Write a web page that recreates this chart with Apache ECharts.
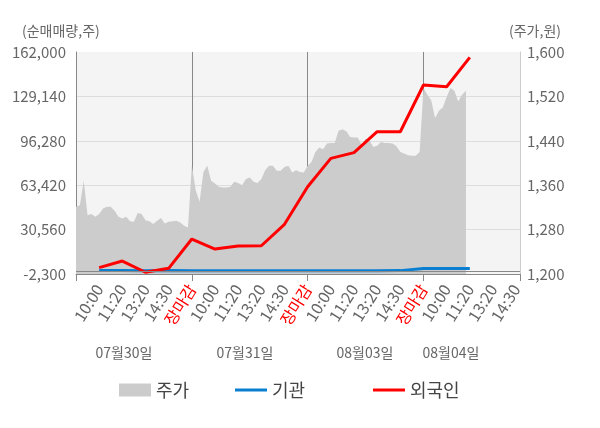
<!DOCTYPE html>
<html>
<head>
<meta charset="utf-8">
<script src="https://cdn.jsdelivr.net/npm/echarts@6/dist/echarts.min.js"></script>
<style>
  html, body { margin: 0; padding: 0; background: #fff; }
  #chart { width: 600px; height: 428px; }
</style>
</head>
<body>
<div id="chart"></div>
<script>
// 데이터
var days = ['07월30일', '07월31일', '08월03일', '08월04일'];
var slotLabels = ['', '10:00', '11:20', '13:20', '14:30', '장마감',
    '10:00', '11:20', '13:20', '14:30', '장마감',
    '10:00', '11:20', '13:20', '14:30', '장마감',
    '10:00', '11:20', '13:20', '14:30'];
var subSteps = 6;     // 한 칸(라벨 간격)당 주가 점 개수
var fineCount = 116;  // 마지막 칸은 약간 길게 (축 끝까지)

// 주가 (원)
var price = [
    1321, 1324, 1368, 1306, 1308, 1303, 1308, 1318, 1321, 1321, 1314, 1303, 1300, 1303, 1295,
    1294, 1310, 1308, 1297, 1295, 1290, 1296, 1301, 1291, 1294, 1295, 1296, 1293, 1287, 1284,
    1396, 1351, 1330, 1384, 1395, 1368, 1363, 1357, 1356, 1356, 1357, 1366, 1364, 1360, 1371,
    1374, 1366, 1364, 1371, 1387, 1395, 1395, 1386, 1386, 1393, 1395, 1383, 1387, 1384, 1383,
    1395, 1402, 1420, 1428, 1425, 1435, 1436, 1436, 1458, 1461, 1457, 1447, 1446, 1446, 1432,
    1444, 1441, 1429, 1431, 1438, 1436, 1436, 1435, 1430, 1420, 1417, 1414, 1413, 1413, 1420,
    1535, 1523, 1513, 1481, 1494, 1500, 1519, 1535, 1530, 1511, 1523, 1530
];
// 순매매량 (주), 라벨 칸마다 한 점
var inst = [null, 200, 200, 100, 200, 100, 100, 100, 100, 100, 100, 100, 100, 100, 200, 1700, 1800, 1800];
var foreign = [null, 2400, 7300, -1000, 1900, 23600, 16200, 18400, 18600, 34500, 62300,
    83300, 87500, 103000, 103000, 137600, 136300, 158000];

var leftMin = -2300, leftMax = 162000, leftStep = 32860;
var rightMin = 1200, rightMax = 1600, rightStep = 80;

var fineCats = [];
for (var i = 0; i < fineCount; i++) {
    fineCats.push(i % subSteps === 0 && slotLabels[i / subSteps] !== undefined ? slotLabels[i / subSteps] : '');
}

function toFine(arr) {
    return fineCats.map(function (c, i) {
        if (i % subSteps !== 0) return null;
        var v = arr[i / subSteps];
        return v === undefined ? null : v;
    });
}

var font = '"Noto Sans CJK KR", "Noto Sans", sans-serif';
var dayLen = subSteps * 5;

var dom = document.getElementById('chart');
var myChart = echarts.init(dom);
var option = {
    backgroundColor: '#fff',
    animation: false,
    textStyle: { fontFamily: font },
    grid: {
        left: 76,
        right: 80,
        top: 52,
        bottom: 154,
        show: true,
        backgroundColor: '#f4f4f4',
        borderWidth: 0,
        containLabel: false,
        outerBoundsMode: 'none'
    },
    legend: [{
        left: 114, top: 376, icon: 'rect', itemWidth: 32, itemHeight: 13, itemGap: 5,
        textStyle: { fontSize: 18, color: '#444', fontFamily: font },
        data: ['주가']
    }, {
        left: 230, top: 376, icon: 'rect', itemWidth: 32, itemHeight: 3,
        textStyle: { fontSize: 18, color: '#444', fontFamily: font },
        data: ['기관']
    }, {
        left: 368, top: 376, icon: 'rect', itemWidth: 32, itemHeight: 3,
        textStyle: { fontSize: 18, color: '#444', fontFamily: font },
        data: ['외국인']
    }],
    xAxis: {
        type: 'category',
        data: fineCats,
        boundaryGap: false,
        axisLine: { onZero: false, lineStyle: { color: '#888' } },
        axisTick: {
            interval: function (index) { return index % dayLen === 0 || index === fineCount - 1; },
            length: 7,
            lineStyle: { color: '#888' }
        },
        splitLine: {
            show: true,
            interval: function (index) { return index % dayLen === 0 && index > 0 && index < fineCount - 1; },
            lineStyle: { color: '#888', width: 1 }
        },
        axisLabel: {
            interval: function (index) { return index % subSteps === 0; },
            rotate: 58,
            fontSize: 16,
            margin: 12,
            fontFamily: font,
            color: function (value, index) {
                if (value === '장마감') return '#ff0000';
                if (index === subSteps * 16) return '#222';
                return '#666';
            }
        }
    },
    yAxis: [{
        type: 'value',
        min: leftMin,
        max: leftMax,
        interval: leftStep,
        position: 'left',
        axisLine: { show: true, lineStyle: { color: '#888' } },
        axisTick: { show: false },
        axisLabel: {
            color: '#666', fontSize: 15, margin: 10, fontFamily: font,
            formatter: function (v) { return v.toLocaleString('en-US'); }
        },
        splitLine: { show: true, showMaxLine: false, lineStyle: { color: '#ddd' } }
    }, {
        type: 'value',
        min: rightMin,
        max: rightMax,
        interval: rightStep,
        position: 'right',
        axisLine: { show: true, lineStyle: { color: '#ccc' } },
        axisTick: { show: false },
        axisLabel: {
            color: '#666', fontSize: 15, margin: 7, fontFamily: font,
            formatter: function (v) { return v.toLocaleString('en-US'); }
        },
        splitLine: { show: false }
    }],
    graphic: [
        { type: 'text', left: 22, top: 24, style: { text: '(순매매량,주)', fill: '#666', fontSize: 14, fontFamily: font } },
        { type: 'text', left: 509, top: 24, style: { text: '(주가,원)', fill: '#666', fontSize: 14, fontFamily: font } },
        { type: 'text', x: 124, y: 353, style: { text: days[0], fill: '#666', fontSize: 14, fontFamily: font, align: 'center', verticalAlign: 'middle' } },
        { type: 'text', x: 245, y: 353, style: { text: days[1], fill: '#666', fontSize: 14, fontFamily: font, align: 'center', verticalAlign: 'middle' } },
        { type: 'text', x: 365, y: 353, style: { text: days[2], fill: '#666', fontSize: 14, fontFamily: font, align: 'center', verticalAlign: 'middle' } },
        { type: 'text', x: 451, y: 353, style: { text: days[3], fill: '#666', fontSize: 14, fontFamily: font, align: 'center', verticalAlign: 'middle' } }
    ],
    series: [{
        name: '주가',
        type: 'line',
        yAxisIndex: 1,
        data: price,
        symbol: 'none',
        lineStyle: { width: 0 },
        itemStyle: { color: '#cccccc' },
        areaStyle: { color: '#cccccc', opacity: 1, origin: 'start' },
        z: 1
    }, {
        name: '기관',
        type: 'line',
        yAxisIndex: 0,
        data: toFine(inst),
        connectNulls: true,
        symbol: 'none',
        lineStyle: { width: 3, color: '#0a7fd1' },
        itemStyle: { color: '#0a7fd1' },
        markLine: {
            silent: true,
            symbol: 'none',
            label: { show: false },
            lineStyle: { color: '#888', width: 1, type: 'solid' },
            data: [{ yAxis: 0 }]
        },
        z: 3
    }, {
        name: '외국인',
        type: 'line',
        yAxisIndex: 0,
        data: toFine(foreign),
        connectNulls: true,
        symbol: 'none',
        lineStyle: { width: 3, color: '#ff0000' },
        itemStyle: { color: '#ff0000' },
        z: 4
    }]
};
myChart.setOption(option, true);
window.onresize = myChart.resize;
</script>
</body>
</html>
